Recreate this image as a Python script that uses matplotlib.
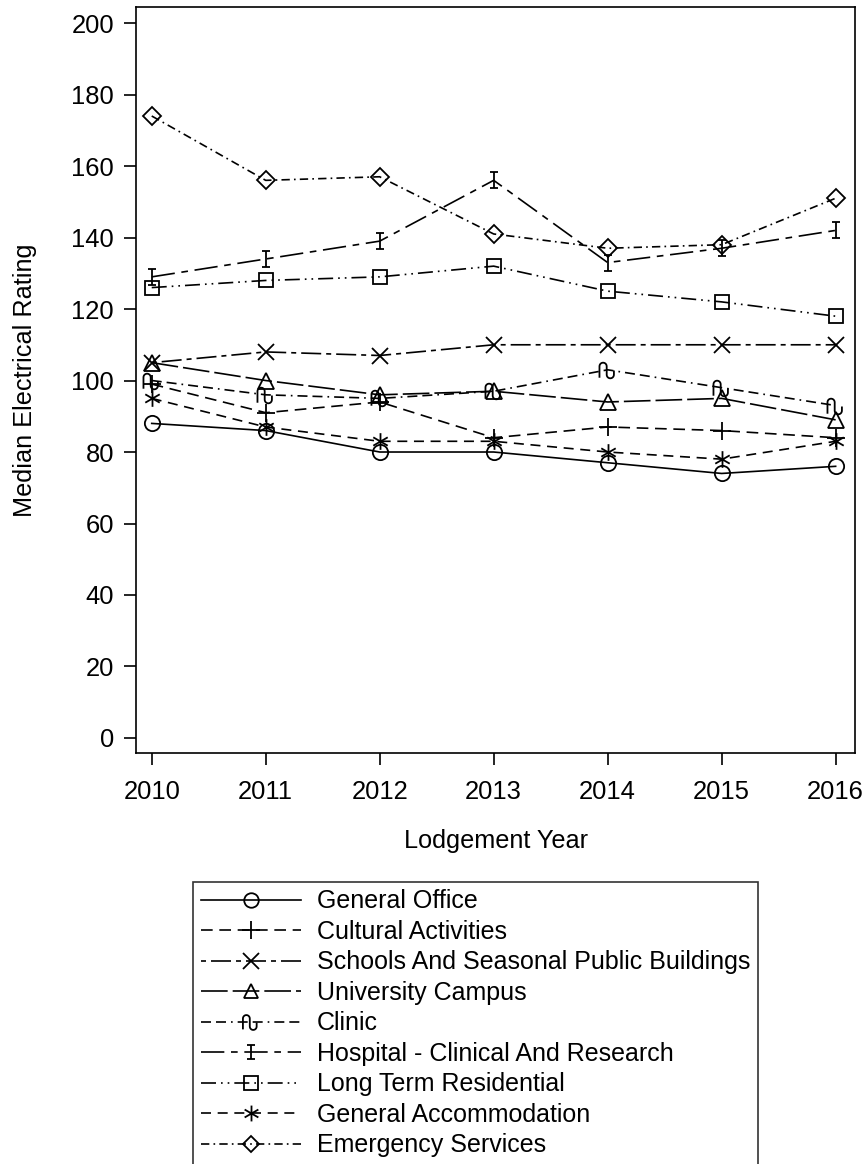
import numpy as np
import matplotlib.pyplot as plt
from matplotlib.path import Path

plt.rcParams['font.family'] = ['Liberation Sans', 'DejaVu Sans']

years = [2010, 2011, 2012, 2013, 2014, 2015, 2016]

general_office = [88, 86, 80, 80, 77, 74, 76]
cultural = [99, 91, 94, 84, 87, 86, 84]
schools = [105, 108, 107, 110, 110, 110, 110]
university = [105, 100, 96, 97, 94, 95, 89]
clinic = [100, 96, 95, 97, 103, 98, 93]
hospital = [129, 134, 139, 156, 133, 137, 142]
long_term = [126, 128, 129, 132, 125, 122, 118]
accommodation = [95, 87, 83, 83, 80, 78, 83]
emergency = [174, 156, 157, 141, 137, 138, 151]

labels = ['General Office', 'Cultural Activities', 'Schools And Seasonal Public Buildings',
          'University Campus', 'Clinic', 'Hospital - Clinical And Research',
          'Long Term Residential', 'General Accommodation', 'Emergency Services']

# custom SAS-like symbols
ibeam = Path([(-0.5, 1), (0.5, 1), (0, 1), (0, -1), (-0.5, -1), (0.5, -1)],
             [Path.MOVETO, Path.LINETO, Path.MOVETO, Path.LINETO, Path.MOVETO, Path.LINETO])
s = np.sqrt(3) / 2
star = Path([(0, 1), (0, -1), (-s, 0.5), (s, -0.5), (-s, -0.5), (s, 0.5)],
            [Path.MOVETO, Path.LINETO, Path.MOVETO, Path.LINETO, Path.MOVETO, Path.LINETO])
t = np.linspace(np.pi, 0, 12)
top_arc = np.column_stack([-0.45 + 0.3 * np.cos(t), 0.35 + 0.3 * np.sin(t)])
bot_arc = np.column_stack([0.15 + 0.3 * np.cos(-t), -0.35 + 0.3 * np.sin(-t)])
clinic_pts = np.vstack([[-0.75, -0.6], top_arc, bot_arc, [[0.45, 0.0]]])
clinic_sym = Path(clinic_pts)

styles = [
    ('o', '-'),
    ('+', (0, (7, 4))),
    ('x', (0, (3, 3, 12, 3))),
    ('^', (0, (16, 3))),
    (clinic_sym, (0, (6, 3, 6, 3, 1, 3))),
    (ibeam, (0, (14, 4, 4, 4))),
    ('s', (0, (9, 3, 1, 3, 1, 3))),
    (star, (0, (6, 4))),
    ('D', (0, (5, 2.5, 1, 2.5))),
]
sizes = [11, 13, 12, 11, 13, 11, 10.5, 12, 9]

series = [general_office, cultural, schools, university, clinic, hospital,
          long_term, accommodation, emergency]

fig = plt.figure(figsize=(8.64, 11.64), dpi=100)
ax = fig.add_axes([0.1574, 0.3531, 0.8322, 0.6409])

for vals, lab, (mk, ls), ms in zip(series, labels, styles, sizes):
    ax.plot(years, vals, color='black', linestyle=ls, linewidth=1.2, marker=mk,
            markersize=ms, markerfacecolor='none', markeredgecolor='black',
            markeredgewidth=1.3, label=lab)

ax.set_xlim(2009.862, 2016.17)
ax.set_ylim(-4.2, 204.5)
ax.set_yticks(range(0, 201, 20))
ax.set_xticks(years)
ax.tick_params(axis='both', labelsize=18.4, length=8.6, width=1.2, direction='out')
ax.tick_params(axis='x', pad=10.5)
ax.tick_params(axis='y', pad=7.2)
for sp in ax.spines.values():
    sp.set_linewidth(1.2)
ax.set_xlabel('Lodgement Year', fontsize=18.2, labelpad=18.5)
ax.set_ylabel('Median Electrical Rating', fontsize=18.2, labelpad=25)

leg = fig.legend(loc='upper left', bbox_to_anchor=(0.2234, 0.2423), fontsize=18,
                 handlelength=4.0, handletextpad=0.65, labelspacing=0.26,
                 borderpad=0.3, borderaxespad=0, numpoints=1, markerscale=0.95,
                 fancybox=False, frameon=True)
leg.get_frame().set_edgecolor('black')
leg.get_frame().set_linewidth(1.2)

plt.savefig('out.png', dpi=100)
